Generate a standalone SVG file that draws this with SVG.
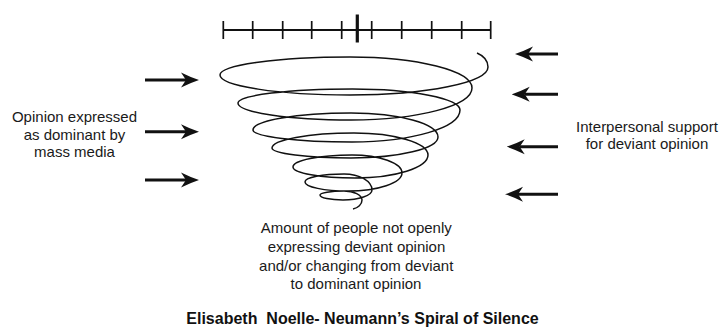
<svg xmlns="http://www.w3.org/2000/svg" width="721" height="327" viewBox="0 0 721 327">
<style>
.t{font-family:"Liberation Sans",Arial,sans-serif;font-size:15px;fill:#1a1a1a;text-anchor:middle}
.tb{font-family:"Liberation Sans",Arial,sans-serif;font-size:16px;font-weight:bold;fill:#111;text-anchor:middle;white-space:pre}
.ln{stroke:#111;fill:none}
.arr{stroke:#111;stroke-width:3;fill:none;marker-end:url(#ah)}
</style>
<defs>
<marker id="ah" markerUnits="userSpaceOnUse" viewBox="0 0 18 16" markerWidth="18" markerHeight="16" refX="5" refY="8" orient="auto">
<path d="M0,0.5 Q9,5 18,8 Q9,11 0,15.5 L5,8 Z" fill="#111"/>
</marker>
</defs>
<rect width="721" height="327" fill="#fff"/>
<g id="scale" class="ln">
<line x1="223" y1="30" x2="491" y2="30" stroke-width="2"/>
<path d="M223.3,21V39M252.7,21V39M282.7,21V39M311.7,21V39M341.7,21V39M371.7,21V39M401.7,21V39M431.7,21V39M461.7,21V39M490.7,21V39" stroke-width="1.7"/>
<line x1="357.3" y1="14.5" x2="357.3" y2="42.5" stroke-width="3.2"/>
</g>
<g id="spiral" class="ln">
<path stroke-width="1.5" d="M477 53 C484 56 488 61 488 67 C488 82.5 426.2 95 350 95 C278.2 95 220 86 220 75 C220 65.1 278.2 57 350 57 C417.3 57 472 70.9 472 88 C472 105.7 417.8 120 351 120 C288.6 120 238 112.4 238 103 C238 95.3 289.3 89 352.5 89 C411.8 89 460 98.4 460 110 C460 127.7 411.6 142 352 142 C297.4 142 253 136.6 253 130 C253 120.6 296.9 113 351 113 C399 113 438 123.8 438 137 C438 148.6 399 158 351 158 C307.4 158 272 153.5 272 148 C272 139.7 308.7 133 354 133 C394.8 133 428 142.9 428 155 C428 167.7 395.3 178 355 178 C320.8 178 293 173.1 293 167 C293 160.4 319.4 155 352 155 C379.6 155 402 163.1 402 173 C402 182.9 377.8 191 348 191 C324.3 191 305 187 305 182 C305 177.6 322.5 174 344 174 C359.5 174 372 181.2 372 190 C372 195.5 359 200 343 200 C330.3 200 320 197.8 320 195 C320 192.8 330.8 191 344 191 C353.9 191 362 195 362 200 C362 204.5 358 208 353 209"/>
</g>
<g id="connectors">
<line class="arr" x1="145" y1="80" x2="186" y2="80"/>
<line class="arr" x1="145" y1="131.7" x2="186" y2="131.7"/>
<line class="arr" x1="145" y1="180" x2="186" y2="180"/>
<line class="arr" x1="558" y1="54" x2="528" y2="54"/>
<line class="arr" x1="558" y1="94.3" x2="524.7" y2="94.3"/>
<line class="arr" x1="558" y1="146.7" x2="519.7" y2="146.7"/>
<line class="arr" x1="558" y1="194.3" x2="518" y2="194.3"/>
</g>
<g id="left-label">
<text class="t" x="74.5" y="122">Opinion expressed</text>
<text class="t" x="74.5" y="139.8">as dominant by</text>
<text class="t" x="74.5" y="157.3">mass media</text>
</g>
<g id="right-label">
<text class="t" x="647" y="132.3">Interpersonal support</text>
<text class="t" x="647" y="148.6">for deviant opinion</text>
</g>
<g id="bottom-label">
<text class="t" x="356.3" y="233.3">Amount of people not openly</text>
<text class="t" x="356.5" y="252.2">expressing deviant opinion</text>
<text class="t" x="356.2" y="270.9">and/or changing from deviant</text>
<text class="t" x="356" y="289.4">to dominant opinion</text>
</g>
<g id="title">
<text class="tb" x="362.5" y="324" xml:space="preserve">Elisabeth  Noelle- Neumann’s Spiral of Silence</text>
</g>
</svg>
